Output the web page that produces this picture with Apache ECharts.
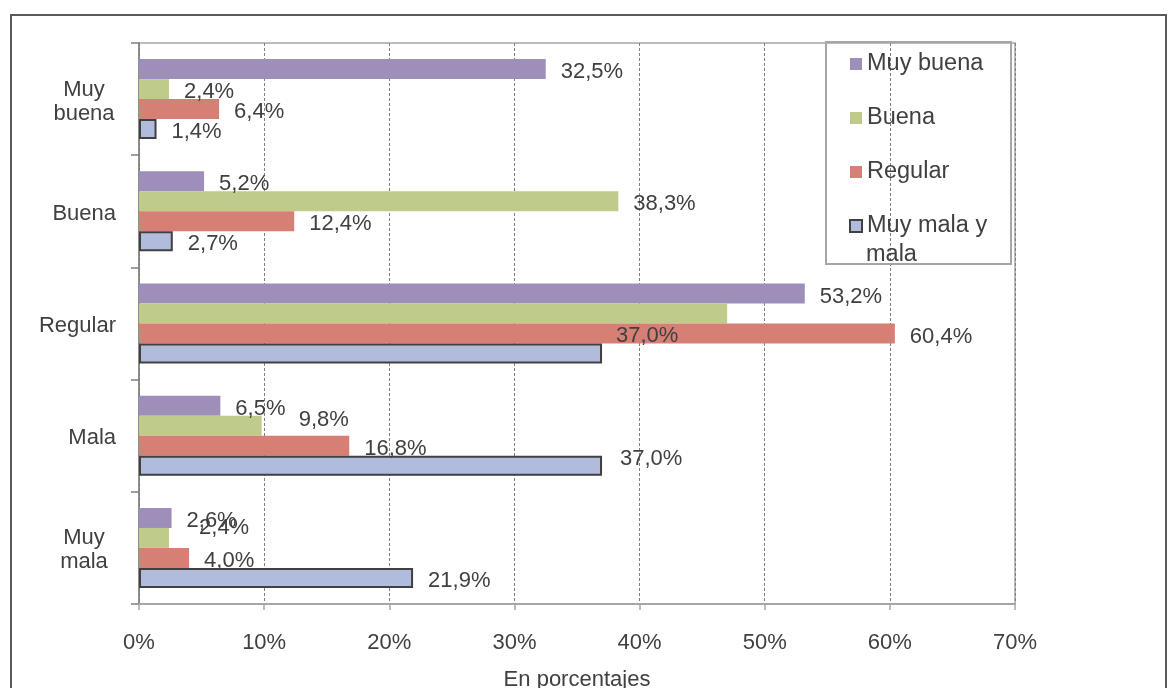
<!DOCTYPE html>
<html>
<head>
<meta charset="utf-8">
<script src="https://cdn.jsdelivr.net/npm/echarts@6/dist/echarts.min.js"></script>
<style>
html,body{margin:0;padding:0;background:#fff;}
#chart{width:1171px;height:688px;}
</style>
</head>
<body>
<div id="chart"></div>
<script>
// ---- data ----
var categories = ['Muy buena', 'Buena', 'Regular', 'Mala', 'Muy mala'];
var seriesNames = ['Muy buena', 'Buena', 'Regular', 'Muy mala y mala'];
var valuesMuyBuena = [32.5, 5.2, 53.2, 6.5, 2.6];
var valuesBuena = [2.4, 38.3, 47.0, 9.8, 2.4];
var valuesRegular = [6.4, 12.4, 60.4, 16.8, 4.0];
var valuesMuyMalaYMala = [1.4, 2.7, 37.0, 37.0, 21.9];
var xTicks = [0, 10, 20, 30, 40, 50, 60, 70];

// ---- styling ----
var FONT = "'Liberation Sans', Arial, sans-serif";
var TXT = '#404040';
var colors = ['#9d8eba', '#bfcb8a', '#d67f74', '#b1bcdc'];
// label tweaks (series index -> category index -> [dx, dy, hidden])
var labelTweaks = {
  1: {2: [0, 0, true], 3: [22, -9], 4: [15, -13]},
  2: {0: [0, 0], 3: [0, 0]},
  3: {2: [-1, -21], 3: [3, -10]}
};
var BASE_DY = 3;
function fmt(v) { return v.toFixed(1).replace('.', ',') + '%'; }

var allValues = [valuesMuyBuena, valuesBuena, valuesRegular, valuesMuyMalaYMala];
var series = allValues.map(function (vals, si) {
  return {
    name: seriesNames[si],
    type: 'bar',
    barWidth: 20,
    barGap: '0%',
    itemStyle: si === 3 ? {color: colors[si], borderColor: '#404040', borderWidth: 2}
                        : {color: colors[si]},
    label: {
      show: true, position: 'right', distance: 15, offset: [0, BASE_DY],
      color: TXT, fontFamily: FONT, fontSize: 22,
      formatter: function (p) { return fmt(p.value); }
    },
    data: vals.map(function (v, ci) {
      var t = labelTweaks[si] && labelTweaks[si][ci];
      if (!t) return v;
      if (t[2]) return {value: v, label: {show: false}};
      return {value: v, label: {offset: [t[0], t[1] + BASE_DY]}};
    })
  };
});

var chart = echarts.init(document.getElementById('chart'), null, {renderer: 'canvas'});
chart.setOption({
  animation: false,
  backgroundColor: '#fff',
  color: colors,
  grid: {left: 139, right: 156, top: 43, bottom: 84, show: true,
         borderColor: '#a6a6a6', borderWidth: 1.5, containLabel: false,
         outerBoundsMode: 'none'},
  xAxis: {
    type: 'value', min: xTicks[0], max: xTicks[xTicks.length - 1], interval: 10,
    name: 'En porcentajes', nameLocation: 'middle', nameGap: 65,
    nameTextStyle: {color: TXT, fontFamily: FONT, fontSize: 22},
    axisLine: {show: true, lineStyle: {color: '#a6a6a6', width: 2}},
    axisTick: {show: true, length: 6, lineStyle: {color: '#a6a6a6', width: 1.5}},
    axisLabel: {color: TXT, fontFamily: FONT, fontSize: 22, margin: 28,
                formatter: function (v) { return v + '%'; }},
    splitLine: {show: true, lineStyle: {color: '#7f7f7f', width: 1, type: [3, 2]}}
  },
  yAxis: {
    type: 'category', data: categories, inverse: true,
    axisLine: {show: true, lineStyle: {color: '#7f7f7f', width: 1.5}},
    axisTick: {show: true, length: 8, lineStyle: {color: '#7f7f7f', width: 1.5}},
    axisLabel: {
      color: TXT, fontFamily: FONT, fontSize: 22, margin: 23, lineHeight: 24,
      padding: [5, 0, 0, 0],
      formatter: function (v) {
        var parts = v.split(' ');
        if (parts.length > 1) return parts.map(function (p) { return '{c|' + p + '}'; }).join('\n');
        return v;
      },
      rich: {c: {width: 64, align: 'center', color: TXT, fontFamily: FONT, fontSize: 22, lineHeight: 24}}
    },
    splitLine: {show: false}
  },
  legend: {
    orient: 'vertical', left: 849, top: 49, padding: 0,
    itemWidth: 12, itemHeight: 12, itemGap: 24,
    icon: 'rect',
    textStyle: {color: TXT, fontFamily: FONT, fontSize: 23.5, lineHeight: 30},
    formatter: function (n) { return n === 'Muy mala y mala' ? 'Muy mala y' : n; },
    data: seriesNames
  },
  graphic: [
    {type: 'rect', silent: true, shape: {x: 11, y: 15, width: 1155, height: 700},
     style: {fill: null, stroke: '#595959', lineWidth: 2}},
    {type: 'rect', silent: true, z: 100, shape: {x: 826, y: 42, width: 185, height: 222},
     style: {fill: null, stroke: '#a6a6a6', lineWidth: 2}},
    {type: 'text', silent: true, z: 100, x: 866, y: 255,
     style: {text: 'mala', fill: TXT, font: '23.5px ' + FONT, verticalAlign: 'middle', align: 'left'}}
  ],
  series: series
});
</script>
</body>
</html>
